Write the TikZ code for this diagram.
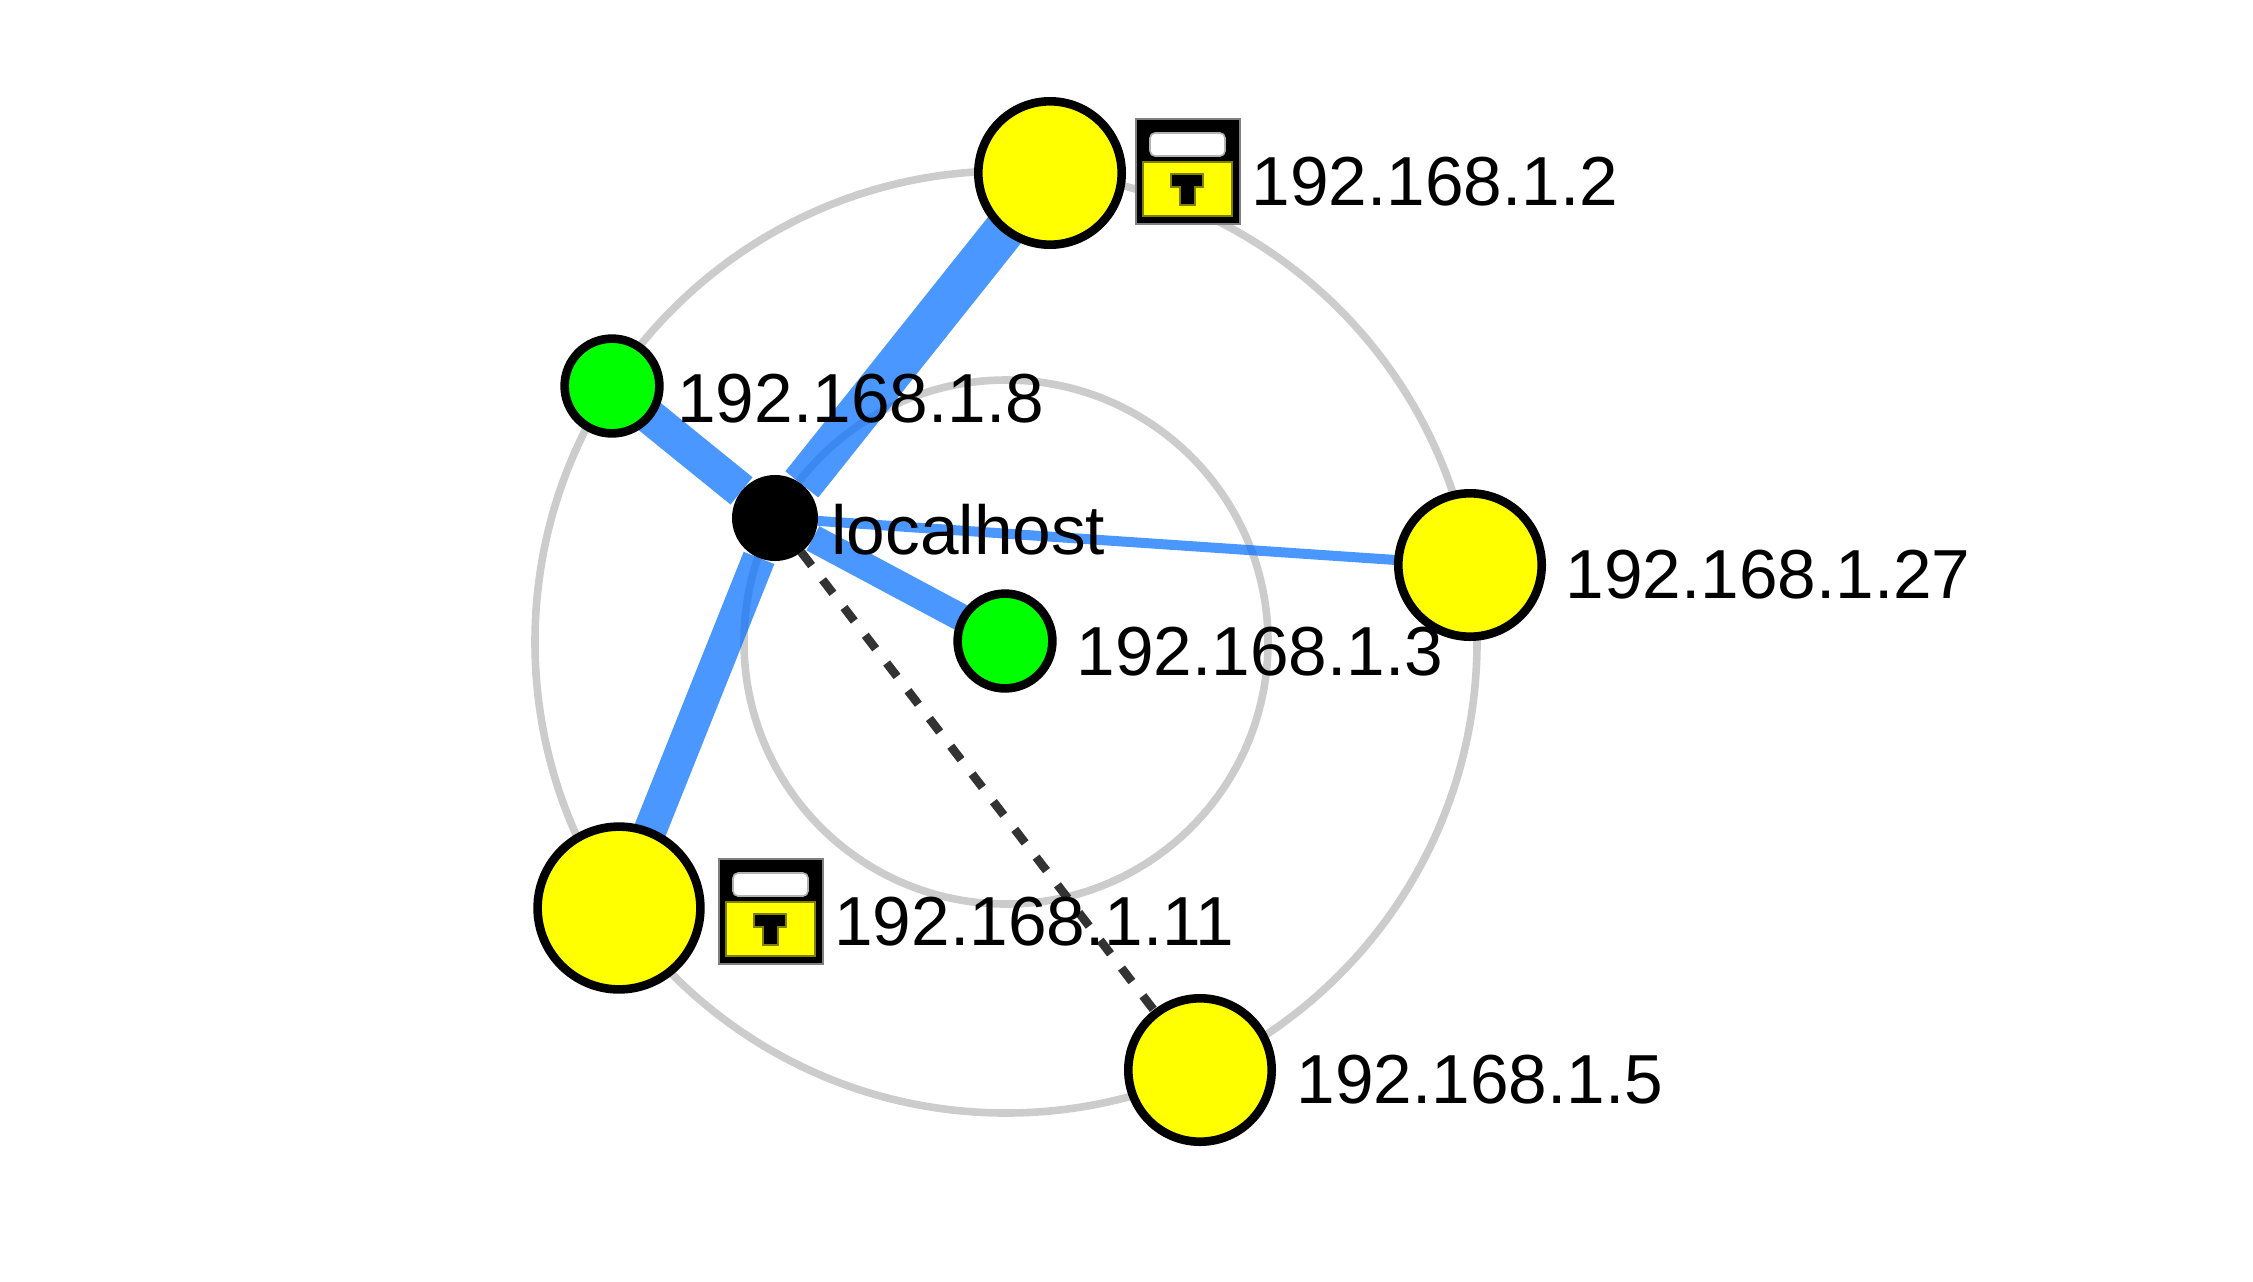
\documentclass[tikz,border=0pt]{standalone}
\usepackage{fontspec}
\setmainfont{Liberation Sans}
\usetikzlibrary{backgrounds}
\definecolor{ringgray}{HTML}{CCCCCC}
\definecolor{linkblue}{HTML}{006EFF}
\definecolor{dashgray}{HTML}{333333}
\definecolor{hostyellow}{HTML}{FFFF00}
\definecolor{hostgreen}{HTML}{00FF00}

\begin{document}
\begin{tikzpicture}[
  x=0.5pt, y=-0.5pt,
  ring/.style={draw=ringgray, line width=3.8pt},
  link/.style={draw=linkblue, draw opacity=0.71},
  quiet/.style={draw=dashgray, line width=4.3pt, dash pattern=on 8.5pt off 9pt},
  hostnode/.style={circle, draw=black, line width=4.3pt, inner sep=0pt, outer sep=0pt},
  bighost/.style={hostnode, fill=hostyellow, minimum size=71.7pt},
  hugehost/.style={hostnode, fill=hostyellow, minimum size=81.4pt},
  smallhost/.style={hostnode, fill=hostgreen, minimum size=47.4pt},
  selfnode/.style={circle, fill=black, minimum size=43pt, inner sep=0pt, outer sep=0pt},
  hostlabel/.style={anchor=base west, inner sep=0pt, text=black, font=\fontsize{34.7}{40}\selectfont},
  lockicon/.pic={
    \fill[black, draw=black!50, line width=1pt] (1,1) rectangle (105,106);
    \fill[white, draw=black!30, line width=0.8pt, rounded corners=2.5pt] (15,15) rectangle (90,38);
    \fill[hostyellow, draw=hostyellow!50!black, line width=0.8pt] (8,44) rectangle (97,98);
    \fill[black, draw=hostyellow!50!black, line width=0.6pt] (36,56) -- (68,56) -- (68,69) -- (60,69)
      -- (60,87) -- (45,87) -- (45,69) -- (36,69) -- cycle;
  },
]
  \useasboundingbox (0,0) rectangle (2253,1281);

  % Hosts
  \node[selfnode] (localhost) at (775,518) {};
  \node[bighost] (hostB) at (1050,173) {};
  \node[smallhost] (hostH) at (612,386) {};
  \node[smallhost] (hostC) at (1005,641) {};
  \node[bighost] (hostAA) at (1470,565) {};
  \node[hugehost] (hostK) at (619,908) {};
  \node[bighost] (hostE) at (1200,1070) {};

  % Rings and links go under the hosts
  \begin{scope}[on background layer]
    \draw[ring] (1006,642) circle (262);
    \draw[ring] (1006,642) circle (471);
    \draw[link, line width=21pt] (localhost) -- (hostB);
    \draw[link, line width=17.5pt] (localhost) -- (hostH);
    \draw[link, line width=13.7pt] (localhost) -- (hostC);
    \draw[link, line width=5pt] (localhost) -- (hostAA);
    \draw[link, line width=16.5pt] (localhost) -- (hostK);
    \draw[quiet] (localhost) -- (hostE);
  \end{scope}

  % Locks
  \pic (lockB) at (1135,118) {lockicon};
  \pic (lockK) at (718,858) {lockicon};

  % Labels
  \node[hostlabel] (labelself) at (831,554) {localhost};
  \node[hostlabel] (labelB) at (1251,205) {192.168.1.2};
  \node[hostlabel] (labelH) at (677,422) {192.168.1.8};
  \node[hostlabel] (labelC) at (1076,675) {192.168.1.3};
  \node[hostlabel] (labelAA) at (1565,598) {192.168.1.27};
  \node[hostlabel] (labelK) at (834,945) {192.168.1.11};
  \node[hostlabel] (labelE) at (1296,1103) {192.168.1.5};
\end{tikzpicture}
\end{document}
